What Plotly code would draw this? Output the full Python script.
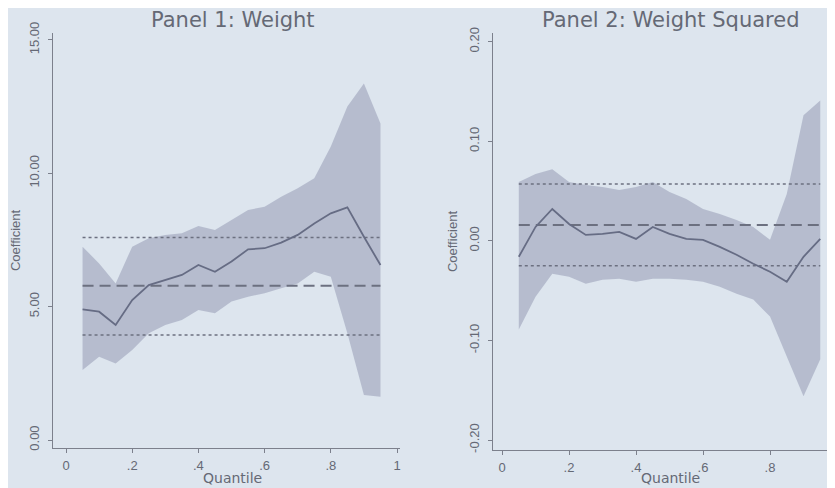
import plotly.graph_objects as go

quantiles = [0.05, 0.10, 0.15, 0.20, 0.25, 0.30, 0.35, 0.40, 0.45, 0.50,
             0.55, 0.60, 0.65, 0.70, 0.75, 0.80, 0.85, 0.90, 0.95]

# Panel 1: Weight
w_coef = [4.90, 4.81, 4.31, 5.25, 5.81, 6.00, 6.19, 6.56, 6.31, 6.69,
          7.15, 7.19, 7.40, 7.69, 8.12, 8.50, 8.72, 7.62, 6.56]
w_upper = [7.25, 6.62, 5.87, 7.25, 7.56, 7.69, 7.75, 8.02, 7.87, 8.25,
           8.62, 8.75, 9.12, 9.44, 9.81, 11.00, 12.50, 13.37, 11.87]
w_lower = [2.62, 3.12, 2.87, 3.37, 4.00, 4.31, 4.50, 4.87, 4.75, 5.19,
           5.37, 5.50, 5.69, 5.87, 6.31, 6.12, 4.00, 1.69, 1.62]
w_ols = 5.78
w_ols_hi = 7.59
w_ols_lo = 3.94

# Panel 2: Weight Squared
w2_coef = [-0.016, 0.014, 0.032, 0.017, 0.006, 0.007, 0.009, 0.002, 0.014, 0.007,
           0.002, 0.001, -0.006, -0.014, -0.023, -0.031, -0.041, -0.016, 0.002]
w2_upper = [0.059, 0.067, 0.072, 0.059, 0.056, 0.054, 0.051, 0.054, 0.059, 0.049,
            0.042, 0.032, 0.027, 0.021, 0.014, 0.001, 0.047, 0.126, 0.141]
w2_lower = [-0.089, -0.056, -0.033, -0.036, -0.043, -0.039, -0.038, -0.041, -0.038, -0.038,
            -0.039, -0.041, -0.046, -0.053, -0.059, -0.076, -0.116, -0.156, -0.119]
w2_ols = 0.016
w2_ols_hi = 0.057
w2_ols_lo = -0.025

x_ticks = [0, 0.2, 0.4, 0.6, 0.8, 1]
x_labels = ["0", ".2", ".4", ".6", ".8", "1"]
y1_ticks = [0, 5, 10, 15]
y1_labels = ["0.00", "5.00", "10.00", "15.00"]
y2_ticks = [-0.2, -0.1, 0, 0.1, 0.2]
y2_labels = ["-0.20", "-0.10", "0.00", "0.10", "0.20"]

band_col = "rgba(150,155,180,0.55)"
line_col = "#666c84"
ref_col = "#6c7080"
txt_col = "#656975"

W, H = 835, 488
OFF = 8  # page body margin shifts the figure by this many pixels

fig = go.Figure()

def add_panel(xa, ya, coef, lo, hi, ols, ols_lo, ols_hi):
    fig.add_trace(go.Scatter(x=quantiles, y=hi, mode="lines", line=dict(width=0),
                             xaxis=xa, yaxis=ya, showlegend=False, hoverinfo="skip"))
    fig.add_trace(go.Scatter(x=quantiles, y=lo, mode="lines", line=dict(width=0),
                             fill="tonexty", fillcolor=band_col,
                             xaxis=xa, yaxis=ya, showlegend=False, hoverinfo="skip"))
    xs = [quantiles[0], quantiles[-1]]
    fig.add_trace(go.Scatter(x=xs, y=[ols, ols], mode="lines",
                             line=dict(color=ref_col, width=2, dash="11px,6px"),
                             xaxis=xa, yaxis=ya, showlegend=False))
    for v in (ols_lo, ols_hi):
        fig.add_trace(go.Scatter(x=xs, y=[v, v], mode="lines",
                                 line=dict(color=ref_col, width=1.5, dash="dot"),
                                 xaxis=xa, yaxis=ya, showlegend=False))
    fig.add_trace(go.Scatter(x=quantiles, y=coef, mode="lines",
                             line=dict(color=line_col, width=1.8),
                             xaxis=xa, yaxis=ya, showlegend=False))

add_panel("x", "y", w_coef, w_lower, w_upper, w_ols, w_ols_lo, w_ols_hi)
add_panel("x2", "y2", w2_coef, w2_lower, w2_upper, w2_ols, w2_ols_lo, w2_ols_hi)

ax_common = dict(showgrid=False, zeroline=False, showline=True, linecolor="#7c808c",
                 linewidth=1.3, ticks="outside", ticklen=4, tickcolor="#7c808c",
                 automargin=False,
                 tickfont=dict(family="Liberation Sans, Arial, sans-serif", size=13, color=txt_col))

def xdom(a, b):
    return [(a - OFF) / W, (b - OFF) / W]

def ydom(top, bottom):
    return [1 - (bottom - OFF) / H, 1 - (top - OFF) / H]

def px(xs):
    return (xs - OFF) / W

def py(ys):
    return 1 - (ys - OFF) / H

yt = dict(text="Coefficient", font=dict(family="Liberation Sans, Arial, sans-serif", size=13, color=txt_col), standoff=6)

title_font = dict(family="DejaVu Sans, sans-serif", size=21, color=txt_col)
xtitle_font = dict(family="DejaVu Sans, sans-serif", size=14, color=txt_col)

fig.update_layout(
    width=W, height=H,
    margin=dict(l=0, r=0, t=0, b=0),
    paper_bgcolor="#dde5ee",
    plot_bgcolor="rgba(0,0,0,0)",
    font=dict(family="Liberation Sans, Arial, sans-serif", color=txt_col),
    xaxis=dict(domain=xdom(53, 400), range=[-0.0393, 1.009],
               tickvals=x_ticks, ticktext=x_labels, anchor="y", ticklabelstandoff=1,
               **ax_common),
    yaxis=dict(domain=ydom(33, 448), range=[-0.3, 15.26],
               tickvals=y1_ticks, ticktext=y1_labels, tickangle=-90, anchor="x",
               ticklabelstandoff=4, title=yt, **ax_common),
    xaxis2=dict(domain=xdom(493, 835), range=[-0.027, 0.994],
                tickvals=x_ticks, ticktext=x_labels, anchor="y2", ticklabelstandoff=1,
                **ax_common),
    yaxis2=dict(domain=ydom(33, 450), range=[-0.210, 0.2087],
                tickvals=y2_ticks, ticktext=y2_labels, tickangle=-90, anchor="x2",
                ticklabelstandoff=4, title=yt, **ax_common),
    annotations=[
        dict(text="Panel 1: Weight", x=px(233), y=py(20),
             xref="paper", yref="paper", showarrow=False, font=title_font,
             xanchor="center", yanchor="middle"),
        dict(text="Panel 2: Weight Squared", x=px(671), y=py(20),
             xref="paper", yref="paper", showarrow=False, font=title_font,
             xanchor="center", yanchor="middle"),
        dict(text="Quantile", x=px(232), y=py(478),
             xref="paper", yref="paper", showarrow=False, font=xtitle_font,
             xanchor="center", yanchor="middle"),
        dict(text="Quantile", x=px(670), y=py(478),
             xref="paper", yref="paper", showarrow=False, font=xtitle_font,
             xanchor="center", yanchor="middle"),
    ],
)

fig.write_html("out.html")
